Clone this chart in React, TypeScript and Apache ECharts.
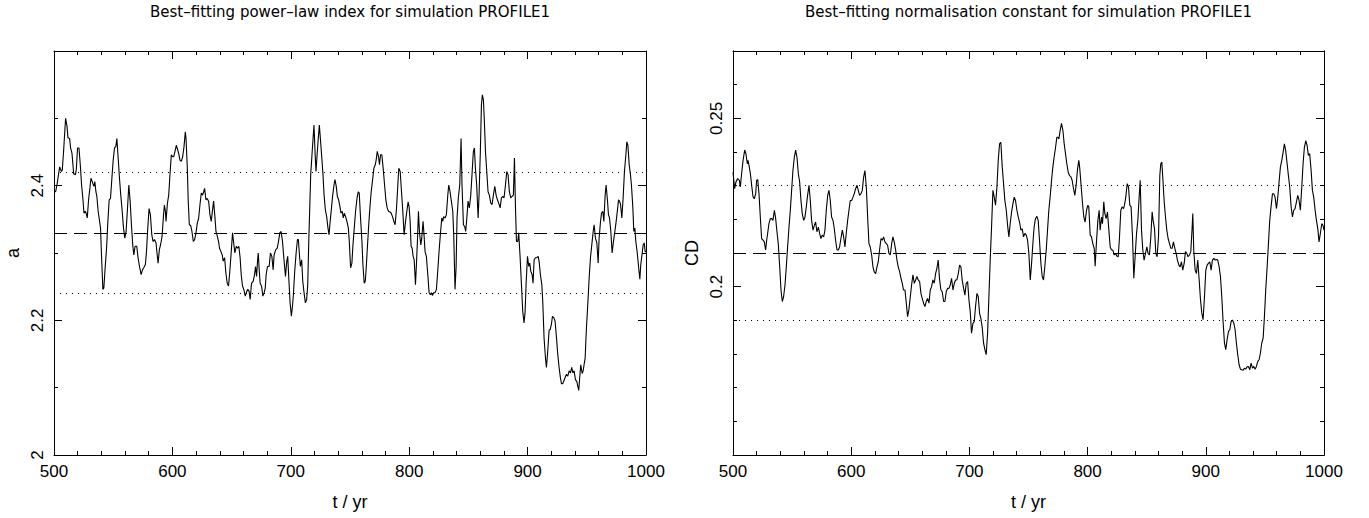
import React, { useEffect, useRef } from "react";
import * as echarts from "echarts";

// ---------------- DATA ----------------
const yearTicks = { min: 500, max: 1000, step: 100 };

const leftTitle = "Best–fitting power–law index for simulation PROFILE1";
const rightTitle = "Best–fitting normalisation constant for simulation PROFILE1";
const xName = "t / yr";
const leftYName = "a";
const rightYName = "CD";

const xLabels = ["500", "600", "700", "800", "900", "1000"];
const leftYLabels = ["2", "2.2", "2.4"];
const rightYLabels = ["0.2", "0.25"];

// reference levels (mean, mean ± spread)
const indexMean = 2.33;
const indexUpper = 2.42;
const indexLower = 2.24;
const normMean = 0.21;
const normUpper = 0.23;
const normLower = 0.19;

// best-fitting power-law index a(t)
const indexSeries: [number, number][] = [
  [500.0, 2.391], [501.4, 2.391], [502.5, 2.401], [504.8, 2.428], [506.2, 2.421], [507.0, 2.423],
  [508.1, 2.451], [509.8, 2.5], [511.0, 2.488], [511.8, 2.471], [513.2, 2.47], [514.0, 2.456],
  [515.2, 2.448], [516.6, 2.418], [518.0, 2.416], [518.8, 2.423], [519.9, 2.456], [521.1, 2.456],
  [522.2, 2.431], [523.3, 2.401], [524.4, 2.381], [525.3, 2.359], [526.4, 2.362], [527.2, 2.359],
  [528.1, 2.352], [529.2, 2.379], [530.3, 2.396], [531.2, 2.411], [532.3, 2.406], [533.7, 2.399],
  [534.5, 2.406], [535.4, 2.391], [536.2, 2.384], [537.3, 2.362], [538.5, 2.347], [539.3, 2.337],
  [540.2, 2.293], [541.3, 2.246], [542.1, 2.248], [543.2, 2.278], [544.4, 2.307], [545.5, 2.347],
  [546.6, 2.379], [547.7, 2.381], [548.9, 2.411], [550.0, 2.438], [551.1, 2.456], [552.2, 2.458],
  [553.1, 2.47], [554.2, 2.441], [555.3, 2.411], [556.4, 2.386], [557.6, 2.362], [558.7, 2.337],
  [559.8, 2.322], [560.9, 2.332], [562.1, 2.367], [563.2, 2.401], [564.3, 2.377], [565.4, 2.342],
  [566.5, 2.312], [567.4, 2.297], [568.5, 2.31], [569.9, 2.31], [571.0, 2.293], [572.2, 2.28],
  [573.6, 2.268], [574.7, 2.275], [575.8, 2.278], [577.2, 2.283], [578.1, 2.302], [579.2, 2.337],
  [580.3, 2.366], [581.4, 2.357], [582.6, 2.327], [583.7, 2.317], [584.8, 2.32], [586.2, 2.315],
  [587.0, 2.3], [587.9, 2.285], [589.0, 2.305], [590.1, 2.313], [591.3, 2.325], [592.4, 2.354],
  [593.2, 2.371], [594.1, 2.362], [594.6, 2.347], [595.8, 2.374], [596.9, 2.386], [598.0, 2.418],
  [599.1, 2.446], [600.2, 2.443], [601.1, 2.443], [602.2, 2.451], [603.3, 2.46], [604.5, 2.453],
  [605.3, 2.448], [606.4, 2.438], [607.5, 2.436], [608.7, 2.443], [609.8, 2.458], [610.9, 2.48],
  [611.5, 2.47], [612.6, 2.426], [613.4, 2.376], [614.3, 2.342], [615.4, 2.341], [616.5, 2.332],
  [617.7, 2.317], [618.8, 2.32], [619.9, 2.33], [621.0, 2.344], [622.2, 2.352], [623.3, 2.372],
  [624.4, 2.389], [625.5, 2.386], [626.4, 2.391], [627.2, 2.396], [628.3, 2.379], [629.4, 2.381],
  [630.6, 2.377], [631.7, 2.357], [632.8, 2.347], [633.9, 2.364], [634.8, 2.377], [635.9, 2.354],
  [636.8, 2.332], [637.9, 2.325], [639.0, 2.317], [639.8, 2.307], [641.0, 2.302], [642.1, 2.297],
  [642.9, 2.288], [644.1, 2.293], [645.2, 2.27], [646.3, 2.255], [647.4, 2.251], [648.5, 2.273],
  [649.7, 2.302], [650.8, 2.33], [651.6, 2.317], [652.8, 2.3], [653.9, 2.31], [655.0, 2.307],
  [656.1, 2.31], [657.2, 2.293], [658.1, 2.268], [659.2, 2.251], [660.3, 2.246], [661.5, 2.236],
  [662.6, 2.242], [663.7, 2.246], [664.8, 2.243], [665.7, 2.231], [666.8, 2.255], [668.2, 2.258],
  [669.4, 2.268], [670.2, 2.28], [671.1, 2.265], [671.9, 2.288], [672.5, 2.3], [673.3, 2.275],
  [674.1, 2.255], [675.3, 2.251], [676.4, 2.236], [677.5, 2.241], [678.4, 2.248], [679.2, 2.268],
  [680.3, 2.28], [681.7, 2.28], [682.8, 2.3], [684.0, 2.295], [685.1, 2.275], [685.9, 2.297],
  [687.3, 2.305], [688.5, 2.307], [689.6, 2.317], [690.7, 2.33], [691.8, 2.332], [693.0, 2.317],
  [694.1, 2.293], [695.5, 2.265], [696.6, 2.288], [697.4, 2.295], [698.3, 2.263], [699.4, 2.226],
  [700.5, 2.206], [701.4, 2.221], [702.2, 2.238], [703.3, 2.273], [704.5, 2.3], [705.6, 2.32],
  [706.4, 2.32], [707.3, 2.297], [708.1, 2.28], [709.2, 2.29], [710.1, 2.258], [711.2, 2.241],
  [712.3, 2.226], [713.4, 2.231], [714.3, 2.253], [715.1, 2.312], [716.0, 2.367], [716.8, 2.416],
  [717.9, 2.446], [718.8, 2.47], [719.6, 2.49], [720.5, 2.448], [721.3, 2.421], [722.2, 2.446],
  [723.0, 2.465], [724.1, 2.49], [725.2, 2.465], [726.4, 2.436], [727.2, 2.416], [728.1, 2.386],
  [729.2, 2.364], [730.3, 2.354], [731.4, 2.337], [732.3, 2.327], [733.1, 2.344], [734.2, 2.364],
  [735.4, 2.386], [736.5, 2.401], [737.3, 2.409], [738.4, 2.399], [739.3, 2.384], [740.4, 2.379],
  [741.5, 2.369], [742.4, 2.359], [743.5, 2.362], [744.3, 2.352], [745.2, 2.359], [746.3, 2.354],
  [747.4, 2.347], [748.6, 2.337], [749.4, 2.317], [750.5, 2.278], [751.6, 2.285], [752.5, 2.312],
  [753.6, 2.337], [754.7, 2.362], [755.9, 2.381], [757.0, 2.391], [757.8, 2.389], [758.9, 2.352],
  [760.1, 2.317], [760.9, 2.283], [762.0, 2.255], [762.9, 2.258], [763.7, 2.278], [764.8, 2.312],
  [766.0, 2.347], [767.1, 2.374], [767.9, 2.391], [769.1, 2.409], [770.2, 2.426], [771.3, 2.431],
  [772.1, 2.438], [773.0, 2.451], [774.1, 2.443], [774.9, 2.431], [775.8, 2.446], [776.9, 2.446],
  [778.0, 2.426], [779.2, 2.401], [780.3, 2.379], [781.4, 2.367], [782.5, 2.362], [783.6, 2.361],
  [784.8, 2.359], [785.9, 2.354], [787.0, 2.347], [788.1, 2.342], [789.3, 2.367], [790.4, 2.401],
  [791.2, 2.426], [792.4, 2.421], [793.5, 2.391], [794.6, 2.362], [795.7, 2.327], [796.9, 2.347],
  [798.0, 2.362], [799.1, 2.376], [799.9, 2.369], [800.8, 2.347], [801.6, 2.31], [802.5, 2.307],
  [803.3, 2.295], [804.2, 2.29], [805.3, 2.253], [806.1, 2.283], [807.0, 2.32], [807.8, 2.362],
  [808.7, 2.33], [809.8, 2.312], [810.6, 2.322], [811.7, 2.347], [812.6, 2.325], [813.4, 2.302],
  [814.5, 2.295], [815.7, 2.268], [816.8, 2.241], [817.9, 2.238], [818.8, 2.241], [819.6, 2.237],
  [820.7, 2.241], [821.8, 2.241], [823.0, 2.246], [824.1, 2.273], [825.2, 2.302], [826.3, 2.327],
  [827.5, 2.352], [828.3, 2.347], [829.1, 2.354], [830.3, 2.352], [831.4, 2.357], [832.5, 2.384],
  [833.4, 2.401], [834.5, 2.391], [835.6, 2.377], [836.8, 2.362], [837.6, 2.327], [838.7, 2.246],
  [839.6, 2.278], [840.4, 2.352], [841.5, 2.382], [842.7, 2.401], [843.8, 2.47], [844.6, 2.401],
  [845.8, 2.342], [846.9, 2.339], [847.7, 2.332], [848.9, 2.357], [849.7, 2.377], [850.8, 2.367],
  [852.0, 2.386], [853.1, 2.418], [854.2, 2.451], [855.1, 2.456], [855.9, 2.426], [857.0, 2.401],
  [858.2, 2.352], [859.0, 2.386], [860.1, 2.451], [861.0, 2.52], [861.8, 2.535], [862.7, 2.527],
  [863.5, 2.495], [864.4, 2.451], [865.5, 2.421], [866.6, 2.391], [867.7, 2.386], [868.9, 2.374],
  [870.0, 2.372], [871.1, 2.386], [872.3, 2.399], [873.4, 2.386], [874.5, 2.379], [875.6, 2.374],
  [876.8, 2.367], [877.9, 2.382], [879.0, 2.384], [880.1, 2.382], [881.3, 2.401], [882.4, 2.421],
  [883.5, 2.416], [884.6, 2.391], [885.8, 2.382], [886.9, 2.384], [888.0, 2.386], [888.9, 2.441],
  [889.7, 2.372], [890.6, 2.317], [891.7, 2.317], [892.5, 2.33], [893.7, 2.293], [894.8, 2.253],
  [895.9, 2.213], [897.0, 2.196], [897.9, 2.213], [898.7, 2.253], [899.9, 2.295], [901.0, 2.28],
  [901.8, 2.285], [902.7, 2.273], [903.8, 2.268], [904.6, 2.255], [905.5, 2.29], [906.6, 2.293],
  [907.7, 2.293], [908.9, 2.295], [909.7, 2.288], [910.8, 2.268], [912.0, 2.253], [912.8, 2.228],
  [913.9, 2.174], [915.1, 2.144], [915.9, 2.13], [917.0, 2.154], [918.2, 2.186], [919.0, 2.186],
  [920.1, 2.194], [921.0, 2.206], [922.1, 2.204], [923.2, 2.199], [924.4, 2.174], [925.5, 2.149],
  [926.6, 2.13], [927.7, 2.115], [928.6, 2.106], [929.7, 2.106], [930.6, 2.11], [931.7, 2.115],
  [932.8, 2.12], [933.9, 2.117], [935.1, 2.125], [936.2, 2.122], [937.3, 2.13], [938.2, 2.122],
  [939.3, 2.125], [940.4, 2.112], [941.6, 2.109], [942.4, 2.102], [943.2, 2.096], [944.1, 2.117],
  [944.9, 2.134], [946.1, 2.121], [946.9, 2.125], [947.7, 2.134], [948.6, 2.144], [949.7, 2.189],
  [950.8, 2.223], [952.0, 2.263], [953.1, 2.293], [954.2, 2.312], [955.4, 2.332], [956.2, 2.342],
  [957.3, 2.322], [958.5, 2.315], [959.6, 2.285], [960.4, 2.322], [961.6, 2.347], [962.4, 2.359],
  [963.5, 2.362], [964.4, 2.347], [965.5, 2.386], [966.3, 2.401], [967.5, 2.377], [968.3, 2.357],
  [969.2, 2.352], [970.3, 2.332], [971.4, 2.3], [972.5, 2.317], [973.7, 2.332], [974.8, 2.347],
  [975.9, 2.364], [976.8, 2.379], [977.6, 2.377], [978.5, 2.372], [979.6, 2.352], [980.7, 2.382],
  [981.8, 2.421], [983.0, 2.446], [983.8, 2.465], [984.7, 2.46], [985.8, 2.431], [986.9, 2.416],
  [987.7, 2.401], [988.9, 2.367], [989.7, 2.332], [990.6, 2.337], [991.4, 2.317], [992.5, 2.302],
  [993.7, 2.28], [994.8, 2.261], [995.6, 2.283], [996.8, 2.3], [997.6, 2.312], [998.5, 2.315],
  [999.3, 2.302], [1000.0, 2.302],
];

// best-fitting normalisation constant CD(t)
const normSeries: [number, number][] = [
  [500.0, 0.234], [501.4, 0.2291], [502.5, 0.2311], [503.9, 0.2321], [505.4, 0.2316], [506.2, 0.2296],
  [507.3, 0.2336], [508.5, 0.2375], [509.9, 0.2406], [511.0, 0.2394], [512.1, 0.2365], [512.7, 0.2375],
  [513.8, 0.2355], [514.7, 0.2336], [515.8, 0.2301], [516.9, 0.2268], [518.0, 0.2261], [519.2, 0.2276],
  [520.0, 0.2316], [520.9, 0.2318], [522.0, 0.2276], [523.1, 0.2207], [524.2, 0.2143], [525.4, 0.2138],
  [526.5, 0.2133], [527.6, 0.2109], [528.5, 0.2138], [529.3, 0.2158], [530.4, 0.2187], [531.6, 0.2202],
  [532.7, 0.2202], [533.8, 0.2197], [535.0, 0.2227], [536.1, 0.2202], [537.2, 0.2163], [538.3, 0.2128],
  [539.5, 0.2059], [540.6, 0.199], [541.7, 0.1956], [542.8, 0.197], [544.0, 0.2005], [545.1, 0.2059],
  [546.2, 0.2118], [547.4, 0.2178], [548.5, 0.2227], [549.6, 0.2286], [550.7, 0.2345], [551.9, 0.2385],
  [553.0, 0.2406], [554.1, 0.2385], [555.3, 0.2335], [556.4, 0.2311], [557.5, 0.2256], [558.6, 0.2217],
  [559.8, 0.2197], [560.9, 0.2207], [562.0, 0.2237], [563.1, 0.2271], [564.3, 0.2301], [565.4, 0.2256],
  [566.5, 0.2197], [567.7, 0.2168], [568.8, 0.2182], [569.9, 0.2192], [571.0, 0.2163], [572.2, 0.2177],
  [573.3, 0.2158], [574.4, 0.2143], [575.5, 0.2153], [576.7, 0.2148], [577.8, 0.2168], [578.9, 0.2227],
  [580.1, 0.2271], [581.2, 0.2286], [582.3, 0.2256], [583.4, 0.2207], [584.6, 0.2197], [585.7, 0.2172],
  [586.8, 0.2138], [588.0, 0.2109], [589.1, 0.2109], [590.2, 0.2118], [591.3, 0.2143], [592.5, 0.2168],
  [593.6, 0.2148], [594.7, 0.2118], [595.8, 0.2158], [597.0, 0.2197], [598.1, 0.2227], [599.2, 0.2256],
  [600.4, 0.2256], [601.5, 0.2266], [602.6, 0.2276], [603.7, 0.2291], [604.9, 0.2301], [606.0, 0.2286],
  [607.1, 0.2271], [608.2, 0.2276], [609.4, 0.2286], [610.5, 0.2325], [611.6, 0.2345], [612.8, 0.2296],
  [613.9, 0.2207], [615.0, 0.2128], [616.1, 0.2118], [617.3, 0.2094], [618.4, 0.2059], [619.5, 0.2044],
  [620.7, 0.2039], [621.8, 0.2059], [622.9, 0.2074], [624.0, 0.2109], [625.2, 0.2143], [626.3, 0.2138],
  [627.4, 0.2148], [628.5, 0.2133], [629.7, 0.2128], [630.8, 0.2123], [631.9, 0.2099], [633.1, 0.2094],
  [634.2, 0.2128], [635.3, 0.2148], [636.4, 0.2133], [637.6, 0.2109], [638.7, 0.2079], [639.8, 0.2059],
  [641.0, 0.2044], [642.1, 0.2025], [643.2, 0.201], [644.3, 0.199], [645.5, 0.199], [646.6, 0.1951],
  [647.7, 0.1911], [648.8, 0.1931], [650.0, 0.197], [651.1, 0.2005], [652.2, 0.2035], [653.4, 0.201],
  [654.5, 0.202], [655.6, 0.203], [656.7, 0.202], [657.9, 0.2015], [659.0, 0.198], [660.1, 0.1965],
  [661.2, 0.1951], [662.4, 0.1941], [663.5, 0.1956], [664.6, 0.1965], [665.8, 0.1951], [666.9, 0.199],
  [668.0, 0.2], [669.1, 0.202], [670.3, 0.201], [671.4, 0.2039], [672.5, 0.2054], [673.6, 0.2079],
  [674.8, 0.202], [675.9, 0.199], [677.0, 0.1985], [678.2, 0.1956], [679.3, 0.1956], [680.4, 0.1985],
  [681.5, 0.1995], [682.7, 0.1995], [683.8, 0.2005], [684.9, 0.2025], [686.1, 0.199], [687.2, 0.201],
  [688.3, 0.202], [689.4, 0.202], [690.6, 0.2039], [691.7, 0.2064], [692.8, 0.2059], [693.9, 0.202],
  [695.1, 0.1995], [696.2, 0.1975], [697.3, 0.201], [698.5, 0.2015], [699.6, 0.1961], [700.7, 0.1926],
  [701.8, 0.1862], [703.0, 0.1891], [704.1, 0.1896], [705.2, 0.1941], [706.4, 0.198], [707.5, 0.197],
  [708.6, 0.1921], [709.7, 0.1906], [710.9, 0.1877], [712.0, 0.1832], [713.1, 0.1813], [714.2, 0.1798],
  [715.4, 0.1862], [716.5, 0.197], [717.6, 0.2079], [718.8, 0.2182], [719.9, 0.2286], [721.0, 0.2266],
  [722.1, 0.2242], [723.3, 0.2296], [724.4, 0.2375], [725.5, 0.2424], [726.6, 0.2429], [727.8, 0.2355],
  [728.9, 0.2306], [730.0, 0.2256], [731.2, 0.2227], [732.3, 0.2182], [733.4, 0.2148], [734.5, 0.2187],
  [735.7, 0.2222], [736.8, 0.2246], [737.9, 0.2266], [739.0, 0.2256], [740.2, 0.2227], [741.3, 0.2207],
  [742.4, 0.2192], [743.6, 0.2168], [744.7, 0.2172], [745.8, 0.2148], [746.9, 0.2158], [748.1, 0.2153],
  [749.2, 0.2138], [750.3, 0.2099], [751.5, 0.202], [752.6, 0.2069], [753.7, 0.2128], [754.8, 0.2178],
  [755.9, 0.2202], [757.1, 0.2209], [758.2, 0.2197], [759.3, 0.2138], [760.5, 0.2069], [761.6, 0.203],
  [762.7, 0.202], [763.8, 0.2059], [765.0, 0.2109], [766.1, 0.2168], [767.2, 0.2227], [768.3, 0.2266],
  [769.5, 0.2316], [770.6, 0.2355], [771.7, 0.2385], [772.9, 0.2414], [774.0, 0.2444], [774.8, 0.2444],
  [775.7, 0.2439], [776.8, 0.2464], [777.9, 0.2485], [779.1, 0.2464], [780.2, 0.2424], [781.3, 0.2395],
  [782.4, 0.2365], [783.6, 0.234], [784.7, 0.233], [785.8, 0.2327], [786.9, 0.2316], [788.1, 0.2291],
  [789.2, 0.2271], [790.3, 0.2301], [791.5, 0.235], [792.6, 0.2375], [793.4, 0.235], [794.6, 0.2296],
  [795.7, 0.2247], [796.8, 0.2207], [797.9, 0.2192], [799.1, 0.2227], [800.2, 0.2242], [801.0, 0.2237],
  [802.2, 0.2153], [803.3, 0.2148], [804.4, 0.2128], [805.6, 0.2114], [806.4, 0.2061], [807.5, 0.2133],
  [808.7, 0.2197], [809.8, 0.2227], [810.6, 0.2168], [811.8, 0.2207], [812.6, 0.2187], [813.7, 0.2252],
  [814.6, 0.2217], [815.7, 0.2202], [816.8, 0.2222], [818.0, 0.2168], [819.1, 0.2118], [820.2, 0.2109],
  [821.3, 0.2109], [822.5, 0.2094], [823.6, 0.2099], [824.7, 0.2091], [825.9, 0.2089], [827.0, 0.2148],
  [828.1, 0.2227], [829.2, 0.2237], [830.4, 0.2232], [831.2, 0.2242], [832.3, 0.2266], [833.5, 0.2306],
  [834.6, 0.2296], [835.7, 0.2242], [836.8, 0.2237], [838.0, 0.2148], [839.1, 0.2025], [840.2, 0.2089],
  [841.4, 0.2158], [842.5, 0.2197], [843.6, 0.2266], [844.5, 0.2316], [845.6, 0.2168], [846.7, 0.2109],
  [847.8, 0.2079], [849.0, 0.2099], [850.1, 0.2118], [851.2, 0.2099], [852.3, 0.2094], [853.5, 0.2148],
  [854.6, 0.2222], [855.4, 0.2197], [856.6, 0.2173], [857.7, 0.2099], [858.8, 0.2089], [860.0, 0.2148],
  [861.1, 0.233], [861.9, 0.2365], [862.8, 0.237], [863.6, 0.2325], [864.8, 0.2252], [865.9, 0.2207],
  [867.0, 0.2168], [868.1, 0.2143], [869.3, 0.2128], [870.4, 0.2114], [871.5, 0.2114], [872.6, 0.2133],
  [873.8, 0.2114], [874.9, 0.2099], [876.0, 0.2079], [877.2, 0.2064], [878.3, 0.2059], [879.4, 0.2074],
  [880.5, 0.2049], [881.7, 0.2069], [882.8, 0.2104], [883.9, 0.2099], [885.0, 0.2089], [886.2, 0.2094],
  [887.3, 0.2104], [888.4, 0.2173], [889.0, 0.2217], [889.8, 0.2109], [891.0, 0.2049], [892.1, 0.2039],
  [893.2, 0.2079], [894.4, 0.202], [895.5, 0.1961], [896.6, 0.1922], [897.7, 0.1902], [898.9, 0.1971],
  [900.0, 0.2049], [901.1, 0.2064], [902.2, 0.2069], [903.4, 0.2074], [904.5, 0.2049], [905.6, 0.2079],
  [906.8, 0.2084], [907.9, 0.2079], [909.0, 0.2081], [910.1, 0.2079], [911.3, 0.2059], [912.4, 0.203],
  [913.5, 0.1971], [914.7, 0.1892], [915.8, 0.1832], [916.9, 0.1813], [918.0, 0.1842], [919.2, 0.1867],
  [920.3, 0.1872], [921.4, 0.1896], [922.5, 0.1901], [923.7, 0.1892], [924.8, 0.1872], [925.9, 0.1832],
  [927.0, 0.1798], [928.2, 0.1768], [929.3, 0.1755], [930.4, 0.1753], [931.6, 0.1752], [932.7, 0.1758],
  [933.8, 0.1755], [934.9, 0.1762], [936.1, 0.1763], [937.2, 0.1753], [938.3, 0.1773], [939.5, 0.1758],
  [940.6, 0.1763], [941.7, 0.1755], [942.8, 0.1763], [944.0, 0.1778], [945.1, 0.1783], [946.2, 0.1803],
  [947.3, 0.1832], [948.5, 0.1847], [949.6, 0.1911], [950.7, 0.199], [951.9, 0.2059], [953.0, 0.2128],
  [954.1, 0.2197], [955.2, 0.2237], [956.4, 0.2276], [957.5, 0.2276], [958.6, 0.2266], [959.8, 0.2232],
  [960.9, 0.2266], [962.0, 0.2311], [963.1, 0.2355], [964.3, 0.2375], [965.4, 0.2399], [966.5, 0.2424],
  [967.6, 0.2404], [968.8, 0.2365], [969.9, 0.233], [971.0, 0.2296], [972.2, 0.2237], [973.3, 0.2207],
  [974.4, 0.2227], [975.5, 0.2232], [976.7, 0.2252], [977.8, 0.2271], [978.9, 0.2256], [980.0, 0.2227],
  [981.2, 0.2296], [982.3, 0.2365], [983.4, 0.2414], [984.6, 0.2434], [985.7, 0.2419], [986.8, 0.239],
  [987.9, 0.2395], [989.1, 0.2345], [990.2, 0.2286], [991.3, 0.2266], [992.5, 0.2227], [993.6, 0.2197],
  [994.7, 0.2173], [995.8, 0.2133], [996.9, 0.2158], [998.1, 0.2187], [999.2, 0.2182], [1000.0, 0.2168],
];

const leftYRange = { min: 2, max: 2.6, major: 0.2, minorSplit: 2 };
const rightYRange = { min: 0.15, max: 0.27, major: 0.05, minor: 0.01 };

// ---------------- STYLE ----------------
const INK = "#000";
const labelFont = "'Liberation Sans', Arial, sans-serif";
const titleFont = "'DejaVu Sans', sans-serif";

const grids = [
  { left: 54, top: 51, width: 592, height: 404 },
  { left: 733, top: 51, width: 591, height: 404 },
];

function fmt(labels: string[]) {
  return (v: number) => {
    const s = String(Number(Number(v).toFixed(4)));
    return labels.includes(s) ? s : "";
  };
}

function xAxesFor(gridIndex: number) {
  const base: any = {
    type: "value",
    gridIndex,
    min: yearTicks.min,
    max: yearTicks.max,
    interval: yearTicks.step,
    splitLine: { show: false },
    axisLine: { show: true, onZero: false, lineStyle: { color: INK, width: 1 } },
    axisTick: { show: true, inside: true, length: 8, lineStyle: { color: INK, width: 1 } },
    minorTick: { show: true, splitNumber: 5, length: 4, lineStyle: { color: INK, width: 1 } },
    minorSplitLine: { show: false },
  };
  return [
    {
      ...base,
      position: "bottom",
      name: xName,
      nameLocation: "middle",
      nameGap: 38,
      nameTextStyle: { fontFamily: labelFont, fontSize: 18, color: INK },
      axisLabel: { show: true, margin: 8, fontFamily: labelFont, fontSize: 17, color: INK, formatter: fmt(xLabels) },
    },
    { ...base, position: "top", axisLabel: { show: false } },
  ];
}

function yAxisBase(gridIndex: number, position: string, min: number, max: number) {
  return {
    type: "value",
    gridIndex,
    position,
    min,
    max,
    splitLine: { show: false },
    minorSplitLine: { show: false },
    axisLine: { show: true, onZero: false, lineStyle: { color: INK, width: 1 } },
  } as any;
}

const leftYAxes = ["left", "right"].map((pos) => ({
  ...yAxisBase(0, pos, leftYRange.min, leftYRange.max),
  interval: leftYRange.major,
  axisTick: { show: true, inside: true, length: 8, lineStyle: { color: INK, width: 1 } },
  minorTick: { show: true, splitNumber: leftYRange.minorSplit, length: 4, lineStyle: { color: INK, width: 1 } },
  ...(pos === "left"
    ? {
        name: leftYName,
        nameLocation: "middle",
        nameGap: 32,
        nameTextStyle: { fontFamily: labelFont, fontSize: 18, color: INK },
        axisLabel: { show: true, rotate: 90, margin: 8, fontFamily: labelFont, fontSize: 17, color: INK, formatter: fmt(leftYLabels) },
      }
    : { axisLabel: { show: false } }),
}));

const rightYAxes: any[] = [];
["left", "right"].forEach((pos) => {
  rightYAxes.push({
    ...yAxisBase(1, pos, rightYRange.min, rightYRange.max),
    interval: rightYRange.major,
    axisTick: { show: true, inside: true, length: 8, lineStyle: { color: INK, width: 1 } },
    minorTick: { show: false },
    ...(pos === "left"
      ? {
          name: rightYName,
          nameLocation: "middle",
          nameGap: 32,
          nameTextStyle: { fontFamily: labelFont, fontSize: 18, color: INK },
          axisLabel: { show: true, rotate: 90, margin: 8, fontFamily: labelFont, fontSize: 17, color: INK, formatter: fmt(rightYLabels) },
        }
      : { axisLabel: { show: false } }),
  });
  rightYAxes.push({
    ...yAxisBase(1, pos, rightYRange.min, rightYRange.max),
    interval: rightYRange.minor,
    axisTick: { show: true, inside: true, length: 4, lineStyle: { color: INK, width: 1 } },
    minorTick: { show: false },
    axisLabel: { show: false },
  });
});

function refLines(mean: number, upper: number, lower: number) {
  return {
    silent: true,
    symbol: ["none", "none"],
    label: { show: false },
    emphasis: { disabled: true },
    lineStyle: { color: INK, width: 1 },
    data: [
      { yAxis: upper, lineStyle: { color: INK, width: 1, type: [1, 5] } },
      { yAxis: mean, lineStyle: { color: INK, width: 1, type: [13, 7] } },
      { yAxis: lower, lineStyle: { color: INK, width: 1, type: [1, 5] } },
    ],
  };
}

const titleStyle = { textAlign: "center", textVerticalAlign: "top", fontFamily: titleFont, fontSize: 15, fill: INK };

const option: any = {
  animation: false,
  backgroundColor: "#fff",
  grid: grids.map((g) => ({ ...g, containLabel: false, outerBoundsMode: "none" })),
  xAxis: [...xAxesFor(0), ...xAxesFor(1)],
  yAxis: [...leftYAxes, ...rightYAxes],
  graphic: [
    { type: "text", x: grids[0].left + grids[0].width / 2, y: 4, style: { ...titleStyle, text: leftTitle } },
    { type: "text", x: grids[1].left + grids[1].width / 2, y: 4, style: { ...titleStyle, text: rightTitle } },
  ],
  series: [
    {
      type: "line",
      name: "a",
      xAxisIndex: 0,
      yAxisIndex: 0,
      data: indexSeries,
      symbol: "none",
      showSymbol: false,
      lineStyle: { color: INK, width: 1.1 },
      emphasis: { disabled: true },
      markLine: refLines(indexMean, indexUpper, indexLower),
    },
    {
      type: "line",
      name: "CD",
      xAxisIndex: 2,
      yAxisIndex: 2,
      data: normSeries,
      symbol: "none",
      showSymbol: false,
      lineStyle: { color: INK, width: 1.1 },
      emphasis: { disabled: true },
      markLine: refLines(normMean, normUpper, normLower),
    },
  ],
};

export default function App() {
  const ref = useRef<HTMLDivElement>(null);
  useEffect(() => {
    document.body.style.margin = "0";
    const chart = echarts.init(ref.current as HTMLDivElement, null, { renderer: "svg" });
    chart.setOption(option);
    return () => chart.dispose();
  }, []);
  return <div ref={ref} style={{ width: 1369, height: 518 }} />;
}
